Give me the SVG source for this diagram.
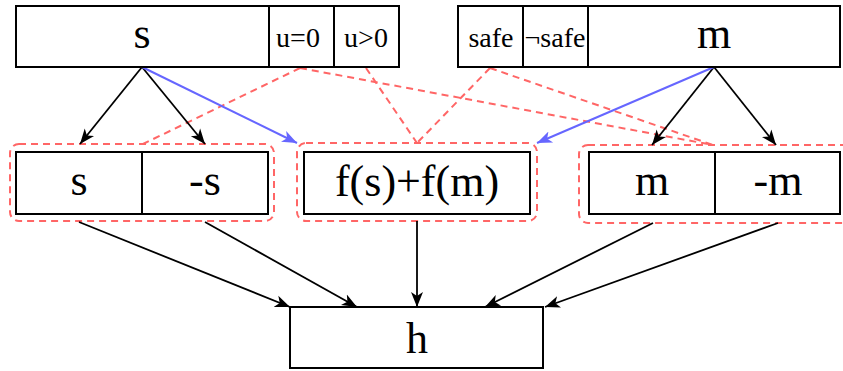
<svg xmlns="http://www.w3.org/2000/svg" width="843" height="371" viewBox="0 0 843 371">
<style>
.box{fill:#fff;stroke:#000;stroke-width:2}
.grp{fill:none;stroke:#ff6666;stroke-width:2;stroke-dasharray:7,5}
.big{font-family:"Liberation Serif","Times New Roman",serif;font-size:44px;text-anchor:middle;fill:#000}
.sm{font-family:"Liberation Serif","Times New Roman",serif;font-size:28px;text-anchor:middle;fill:#000}
.ar{stroke:#000;stroke-width:1.8;fill:none;marker-end:url(#ak)}
.bl{stroke:#6666ff;stroke-width:2;fill:none;marker-end:url(#ab)}
.dl{stroke:#ff6666;stroke-width:2;fill:none;stroke-dasharray:7,5}
</style>
<defs>
<marker id="ak" markerUnits="userSpaceOnUse" markerWidth="17" markerHeight="14" refX="15" refY="7" orient="auto">
<path d="M0,1 L15,7 L0,13 L4,7 z" fill="#000"/>
</marker>
<marker id="ab" markerUnits="userSpaceOnUse" markerWidth="17" markerHeight="14" refX="15" refY="7" orient="auto">
<path d="M0,1 L15,7 L0,13 L4,7 z" fill="#6666ff"/>
</marker>
</defs>
<rect width="843" height="371" fill="#fff"/>
<g id="groups">
<rect class="grp" x="10" y="144" width="264" height="77" rx="9"/>
<rect class="grp" x="297" y="143" width="240" height="78" rx="9"/>
<rect class="grp" x="579" y="145" width="275" height="78" rx="9"/>
</g>
<g id="connectors">
<line class="dl" x1="300" y1="68" x2="143" y2="144"/>
<line class="dl" x1="300" y1="68" x2="713" y2="145"/>
<line class="dl" x1="366" y1="68" x2="417" y2="143"/>
<line class="dl" x1="490" y1="68" x2="417" y2="143"/>
<line class="dl" x1="490" y1="68" x2="713" y2="145"/>
<line class="ar" x1="142" y1="67" x2="80" y2="144"/>
<line class="ar" x1="142" y1="67" x2="205" y2="144"/>
<line class="bl" x1="142" y1="67" x2="297" y2="143"/>
<line class="ar" x1="714" y1="67" x2="652" y2="145"/>
<line class="ar" x1="714" y1="67" x2="776" y2="145"/>
<line class="bl" x1="714" y1="67" x2="537" y2="143"/>
<line class="ar" x1="79" y1="222" x2="290" y2="307"/>
<line class="ar" x1="205" y1="222" x2="357" y2="307"/>
<line class="ar" x1="417" y1="221" x2="417" y2="307"/>
<line class="ar" x1="653" y1="223" x2="485" y2="307"/>
<line class="ar" x1="778" y1="223" x2="545" y2="307"/>
</g>
<g id="node-s">
<rect class="box" x="16" y="6" width="383" height="61"/>
<line x1="269" y1="6" x2="269" y2="67" stroke="#000" stroke-width="2"/>
<line x1="334" y1="6" x2="334" y2="67" stroke="#000" stroke-width="2"/>
<text class="big" x="142" y="48">s</text>
<text class="sm" x="298" y="47">u=0</text>
<text class="sm" x="366" y="47">u&gt;0</text>
</g>
<g id="node-m">
<rect class="box" x="458" y="6" width="382" height="61"/>
<line x1="523" y1="6" x2="523" y2="67" stroke="#000" stroke-width="2"/>
<line x1="588" y1="6" x2="588" y2="67" stroke="#000" stroke-width="2"/>
<text class="sm" x="491" y="47">safe</text>
<text class="sm" x="555" y="47">¬safe</text>
<text class="big" x="714" y="48">m</text>
</g>
<g id="node-s2">
<rect class="box" x="16" y="152" width="252" height="62"/>
<line x1="142" y1="152" x2="142" y2="214" stroke="#000" stroke-width="2"/>
<text class="big" x="79" y="195">s</text>
<text class="big" x="205" y="195">-s</text>
</g>
<g id="node-f">
<rect class="box" x="304" y="152" width="226" height="62"/>
<text class="big" x="417" y="196">f(s)+f(m)</text>
</g>
<g id="node-m2">
<rect class="box" x="589" y="152" width="251" height="62"/>
<line x1="715" y1="152" x2="715" y2="214" stroke="#000" stroke-width="2"/>
<text class="big" x="652" y="195">m</text>
<text class="big" x="778" y="195">-m</text>
</g>
<g id="node-h">
<rect class="box" x="290" y="307" width="253" height="61"/>
<text class="big" x="417" y="353">h</text>
</g>
</svg>
